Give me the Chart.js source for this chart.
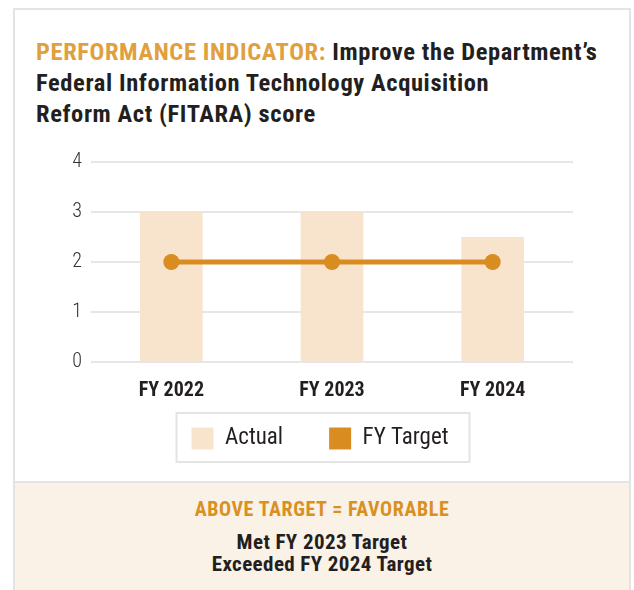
<!DOCTYPE html>
<html>
<head>
<meta charset="utf-8">
<script src="https://cdn.jsdelivr.net/npm/chart.js@4.4.1/dist/chart.umd.min.js"></script>
<style>
  body { margin: 0; background: #fff; width: 634px; height: 590px; position: relative; overflow: hidden;
         font-family: "Roboto Condensed", "DejaVu Sans Condensed", sans-serif; color: #231f20; }
  .card { position: absolute; left: 13px; top: 8px; width: 614px; height: 600px;
          border: 2px solid #e4e4e4; border-bottom: none; }
  .title { position: absolute; left: 36px; top: 36px; width: 590px; font-weight: bold; font-size: 24.5px;
           letter-spacing: 0.6px; line-height: 31px; white-space: nowrap; }
  .title span { color: #e0a040; }
  .panel { position: absolute; left: 15px; top: 481px; width: 614px; height: 120px; background: #faf1e7;
           border-top: 2px solid #e4e4e4; }
  .txt { position: absolute; left: 13px; width: 618px; text-align: center; font-weight: bold;
         font-size: 21px; letter-spacing: 0.4px; line-height: 24px; white-space: nowrap; }
  .head { color: #d9901f; top: 497px; font-size: 20px; letter-spacing: 0.6px; }
  #wrap { position: absolute; left: 67px; top: 140px; width: 514px; height: 345px; }
</style>
</head>
<body>
<div class="card"></div>
<div class="title"><span>PERFORMANCE INDICATOR:</span> Improve the Department’s<br>Federal Information Technology Acquisition<br>Reform Act (FITARA) score</div>
<div class="panel"></div>
<div class="txt head">ABOVE TARGET = FAVORABLE</div>
<div class="txt" style="top:530px">Met FY 2023 Target</div>
<div class="txt" style="top:552px">Exceeded FY 2024 Target</div>
<div id="wrap"><canvas id="chart"></canvas></div>
<script>
const years = ["FY 2022", "FY 2023", "FY 2024"];
const actual = [3, 3, 2.5];
const target = [2, 2, 2];
const yTicks = [0, 1, 2, 3, 4];

const fontFam = '"Roboto Condensed", "DejaVu Sans Condensed", sans-serif';
const barColor = '#f8e4cc';
const lineColor = '#d98c1f';

// legend sits over the spare axis room, then gets a grey box round it
const legendBox = {
    id: 'legendBox',
    afterLayout(chart) {
        chart.legend.top -= 25;
        chart.legend.bottom -= 25;
        chart.legend.left -= 4;
        chart.legend.right -= 4;
    },
    afterDraw(chart) {
        const hb = chart.legend.legendHitBoxes;
        if (!hb || !hb.length) return;
        const last = hb[hb.length - 1];
        const x0 = hb[0].left - 15;
        const x1 = last.left + last.width + 21;
        const ctx = chart.ctx;
        ctx.save();
        ctx.strokeStyle = '#e4e4e4';
        ctx.lineWidth = 2;
        ctx.strokeRect(x0, hb[0].top - 14, x1 - x0, 49);
        ctx.restore();
    }
};

const ctx = document.getElementById("chart");
const myChart = new Chart(ctx, {
    data: {
        labels: years,
        datasets: [{
            type: 'bar',
            label: 'Actual',
            data: actual,
            backgroundColor: barColor,
            barPercentage: 0.39,
            categoryPercentage: 1,
            order: 2
        }, {
            type: 'line',
            label: 'FY Target',
            data: target,
            borderColor: lineColor,
            backgroundColor: lineColor,
            borderWidth: 5,
            pointRadius: 8,
            pointBackgroundColor: lineColor,
            pointBorderWidth: 0,
            tension: 0,
            order: 1
        }]
    },
    options: {
        responsive: true,
        maintainAspectRatio: false,
        animation: false,
        layout: { padding: { top: 22, left: 0, right: 0, bottom: 0 } },
        plugins: {
            tooltip: { enabled: false },
            legend: {
                position: 'bottom',
                labels: {
                    boxWidth: 22,
                    boxHeight: 22,
                    padding: 46,
                    color: '#231f20',
                    font: { family: fontFam, size: 23 },
                    generateLabels(chart) {
                        return chart.data.datasets.map((ds, i) => ({
                            text: ds.label,
                            fillStyle: ds.backgroundColor,
                            strokeStyle: ds.backgroundColor,
                            lineWidth: 0,
                            fontColor: '#231f20',
                            datasetIndex: i
                        }));
                    }
                }
            }
        },
        scales: {
            x: {
                grid: { display: false },
                border: { display: false },
                ticks: {
                    color: '#231f20',
                    padding: 9,
                    font: { family: fontFam, size: 20, weight: 'bold' }
                },
                afterFit(scale) {
                    scale.height = 44;
                    scale.paddingLeft = 0;
                    scale.paddingRight = 0;
                }
            },
            y: {
                min: 0,
                max: 4,
                afterBuildTicks(scale) { scale.ticks = yTicks.map(v => ({ value: v })); },
                grid: { color: '#e6e6e6', lineWidth: 2, drawTicks: false },
                border: { display: false },
                ticks: {
                    color: '#333333',
                    padding: 9,
                    font: { family: fontFam, size: 20, weight: 300 }
                },
                afterFit(scale) { scale.width = 24; }
            }
        }
    },
    plugins: [legendBox]
});
</script>
</body>
</html>
